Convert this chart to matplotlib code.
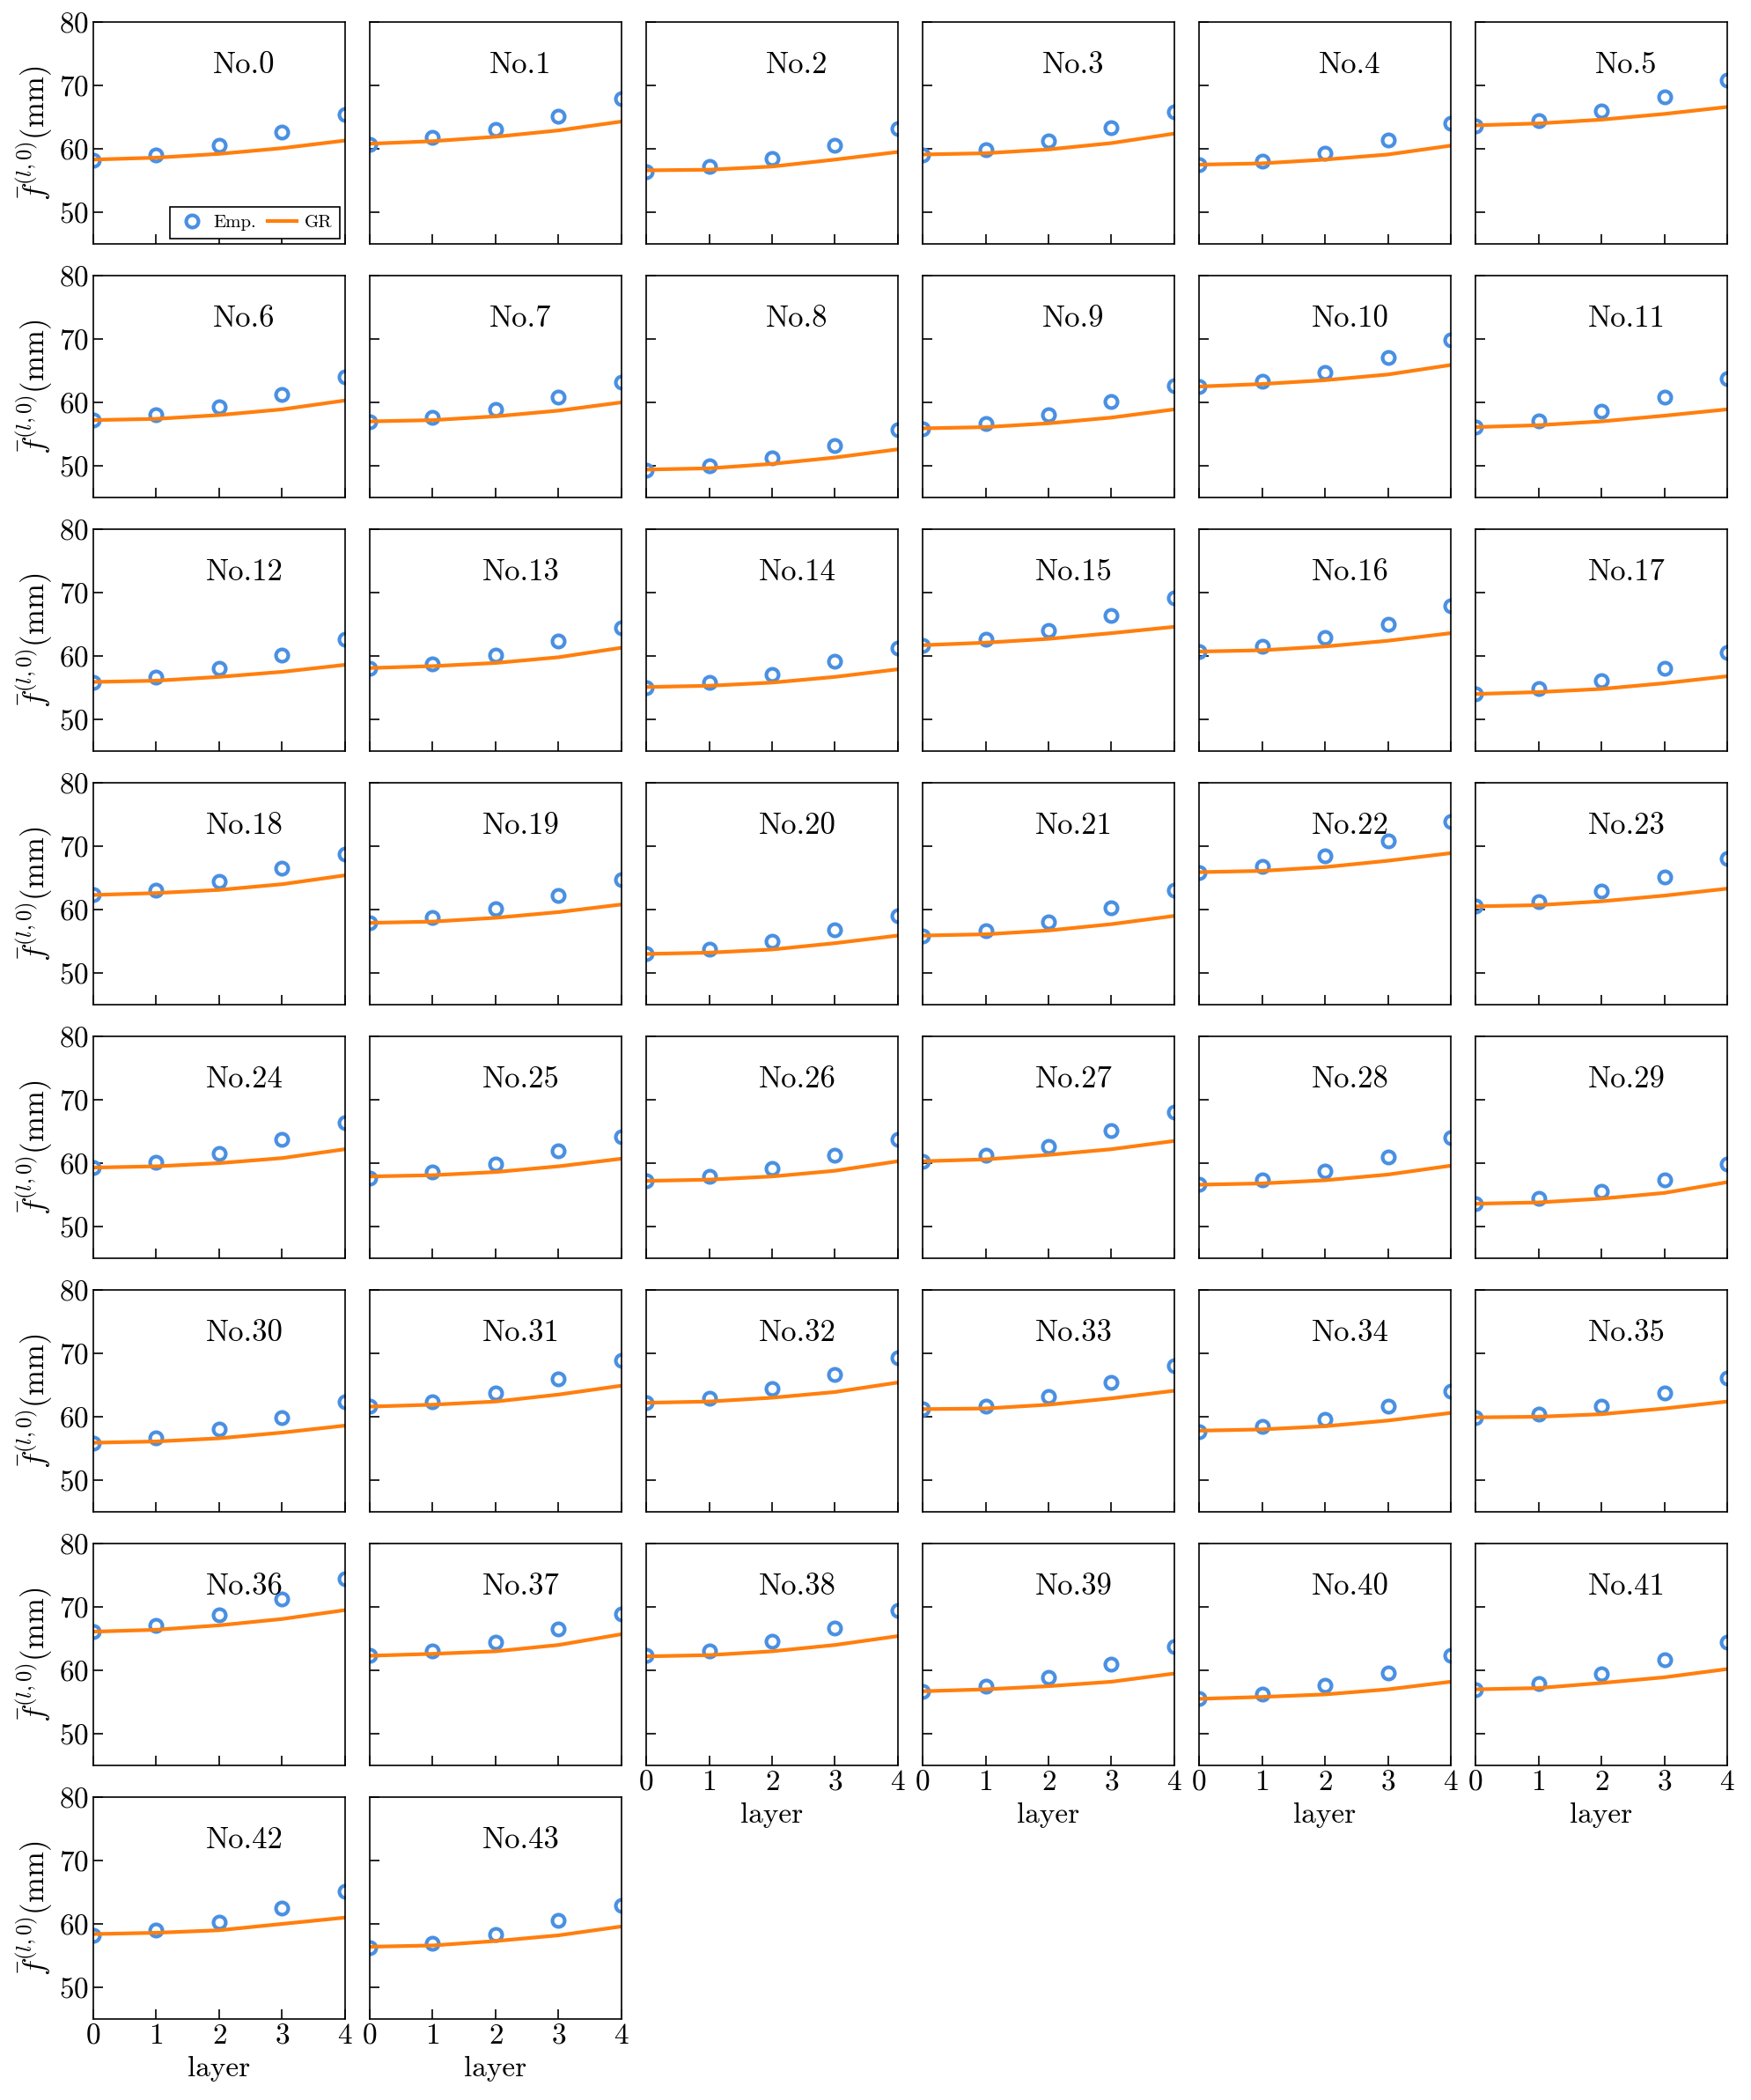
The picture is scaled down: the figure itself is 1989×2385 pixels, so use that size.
import numpy as np
import matplotlib
matplotlib.use('Agg')
import matplotlib.pyplot as plt

plt.rcParams['font.family'] = 'cmr10'
plt.rcParams['mathtext.fontset'] = 'cm'
plt.rcParams['axes.formatter.use_mathtext'] = True

layers = [0, 1, 2, 3, 4]

# empirical values read per panel (No.0 .. No.43)
emp = [
    [58.2, 59.0, 60.5, 62.7, 65.4],
    [60.7, 61.8, 63.1, 65.2, 67.9],
    [56.4, 57.2, 58.5, 60.6, 63.2],
    [59.0, 59.8, 61.2, 63.3, 65.9],
    [57.5, 58.1, 59.3, 61.4, 64.0],
    [63.6, 64.5, 66.0, 68.2, 70.9],
    [57.2, 58.0, 59.3, 61.3, 64.0],
    [57.0, 57.7, 58.9, 60.9, 63.2],
    [49.3, 50.0, 51.3, 53.2, 55.7],
    [55.9, 56.7, 58.1, 60.2, 62.7],
    [62.5, 63.3, 64.7, 67.1, 69.9],
    [56.1, 57.1, 58.6, 60.8, 63.8],
    [55.8, 56.6, 58.0, 60.1, 62.7],
    [58.1, 58.8, 60.2, 62.3, 64.5],
    [55.0, 55.8, 57.1, 59.2, 61.3],
    [61.6, 62.6, 64.0, 66.4, 69.2],
    [60.7, 61.5, 62.9, 65.0, 67.9],
    [54.0, 54.8, 56.1, 58.1, 60.6],
    [62.3, 63.1, 64.4, 66.5, 68.8],
    [57.9, 58.7, 60.1, 62.2, 64.7],
    [53.0, 53.7, 55.0, 56.8, 59.0],
    [55.9, 56.7, 58.1, 60.3, 63.0],
    [65.9, 66.8, 68.5, 70.9, 73.9],
    [60.5, 61.3, 62.9, 65.2, 68.1],
    [59.3, 60.1, 61.5, 63.7, 66.4],
    [57.7, 58.6, 59.8, 61.9, 64.1],
    [57.2, 57.9, 59.2, 61.2, 63.7],
    [60.3, 61.3, 62.7, 65.2, 68.1],
    [56.6, 57.4, 58.8, 61.0, 64.0],
    [53.6, 54.4, 55.6, 57.4, 59.9],
    [55.9, 56.7, 58.0, 59.9, 62.4],
    [61.6, 62.3, 63.8, 66.0, 68.9],
    [62.2, 62.9, 64.4, 66.6, 69.3],
    [61.2, 61.7, 63.2, 65.4, 68.1],
    [57.6, 58.5, 59.6, 61.7, 64.0],
    [59.9, 60.4, 61.6, 63.7, 66.1],
    [66.1, 67.1, 68.8, 71.3, 74.4],
    [62.3, 63.0, 64.4, 66.5, 68.9],
    [62.3, 63.0, 64.6, 66.6, 69.4],
    [56.7, 57.5, 58.9, 61.0, 63.8],
    [55.5, 56.3, 57.7, 59.6, 62.3],
    [57.0, 57.9, 59.4, 61.7, 64.4],
    [58.2, 59.0, 60.3, 62.5, 65.1],
    [56.2, 57.0, 58.4, 60.5, 62.9],
]

# GR model curves
gr = [
    [58.3, 58.6, 59.2, 60.1, 61.3],
    [60.8, 61.2, 61.9, 62.9, 64.3],
    [56.6, 56.7, 57.2, 58.3, 59.5],
    [59.1, 59.3, 59.9, 60.9, 62.4],
    [57.5, 57.7, 58.3, 59.1, 60.5],
    [63.7, 64.0, 64.6, 65.5, 66.6],
    [57.2, 57.4, 58.0, 58.9, 60.3],
    [57.0, 57.2, 57.8, 58.7, 60.0],
    [49.4, 49.6, 50.3, 51.3, 52.6],
    [55.9, 56.1, 56.7, 57.6, 58.9],
    [62.5, 62.9, 63.5, 64.4, 65.9],
    [56.1, 56.4, 57.0, 57.9, 58.9],
    [55.9, 56.1, 56.7, 57.5, 58.6],
    [58.1, 58.4, 58.9, 59.8, 61.3],
    [55.1, 55.3, 55.8, 56.7, 57.9],
    [61.7, 62.1, 62.7, 63.6, 64.6],
    [60.7, 60.9, 61.5, 62.4, 63.6],
    [54.0, 54.3, 54.8, 55.7, 56.8],
    [62.3, 62.6, 63.1, 64.0, 65.4],
    [57.9, 58.1, 58.7, 59.6, 60.8],
    [53.0, 53.2, 53.7, 54.7, 55.9],
    [55.9, 56.1, 56.7, 57.7, 59.0],
    [65.9, 66.1, 66.7, 67.7, 68.9],
    [60.5, 60.7, 61.3, 62.2, 63.3],
    [59.3, 59.5, 60.0, 60.8, 62.2],
    [57.9, 58.1, 58.6, 59.5, 60.7],
    [57.2, 57.4, 57.9, 58.8, 60.3],
    [60.3, 60.6, 61.3, 62.2, 63.5],
    [56.6, 56.8, 57.3, 58.2, 59.6],
    [53.6, 53.8, 54.4, 55.3, 57.0],
    [55.9, 56.1, 56.6, 57.5, 58.6],
    [61.6, 61.9, 62.4, 63.5, 64.9],
    [62.2, 62.4, 63.0, 63.9, 65.4],
    [61.2, 61.3, 61.9, 62.9, 64.1],
    [57.8, 58.0, 58.5, 59.4, 60.6],
    [59.9, 60.0, 60.4, 61.3, 62.4],
    [66.1, 66.4, 67.1, 68.1, 69.5],
    [62.3, 62.6, 63.0, 64.0, 65.7],
    [62.2, 62.4, 63.0, 64.0, 65.4],
    [56.7, 57.0, 57.5, 58.2, 59.5],
    [55.5, 55.8, 56.2, 57.0, 58.2],
    [57.0, 57.2, 58.0, 58.9, 60.2],
    [58.4, 58.6, 59.0, 60.0, 61.0],
    [56.4, 56.6, 57.3, 58.2, 59.6],
]

n_panels = len(emp)
nrows, ncols = 8, 6

fig, axes = plt.subplots(nrows, ncols, figsize=(19.89, 23.85), dpi=100)
fig.subplots_adjust(left=106/1989, right=1962/1989, top=1-25/2385, bottom=1-2293/2385,
                    wspace=0.098, hspace=0.143)

for k in range(nrows * ncols):
    r, c = divmod(k, ncols)
    ax = axes[r, c]
    if k >= n_panels:
        ax.remove()
        continue
    ax.plot(layers, emp[k], 'o', mfc='none', mec='#4a90e2', ms=10, mew=3, label='Emp.')
    ax.plot(layers, gr[k], '-', color='#ff7f0e', lw=3, label='GR')
    ax.set_xlim(0, 4)
    ax.set_ylim(45, 80)
    ax.set_xticks(layers)
    ax.set_yticks([50, 60, 70, 80])
    ax.tick_params(direction='in', length=8, width=1.2, labelsize=24,
                   top=False, right=False)
    for sp in ax.spines.values():
        sp.set_linewidth(1.2)
    ax.text(0.6, 0.805, 'No.%d' % k, transform=ax.transAxes,
            ha='center', va='center', fontsize=25)

    # bottom-most panel in each column gets x labels
    if k + ncols >= n_panels:
        ax.set_xlabel('layer', fontsize=24, labelpad=6)
    else:
        ax.tick_params(labelbottom=False)
    if c == 0:
        ax.set_ylabel(r'$\bar{f}^{(l,0)}$(mm)', fontsize=25)
    else:
        ax.tick_params(labelleft=False)

    if k == 0:
        leg = ax.legend(loc='lower right', ncol=2, fontsize=15, frameon=True,
                        fancybox=False, edgecolor='black', framealpha=1,
                        handlelength=1.6, columnspacing=0.6, handletextpad=0.4,
                        borderpad=0.4, borderaxespad=0.3)
        leg.get_frame().set_linewidth(1.2)

fig.savefig('out.png', dpi=100)
